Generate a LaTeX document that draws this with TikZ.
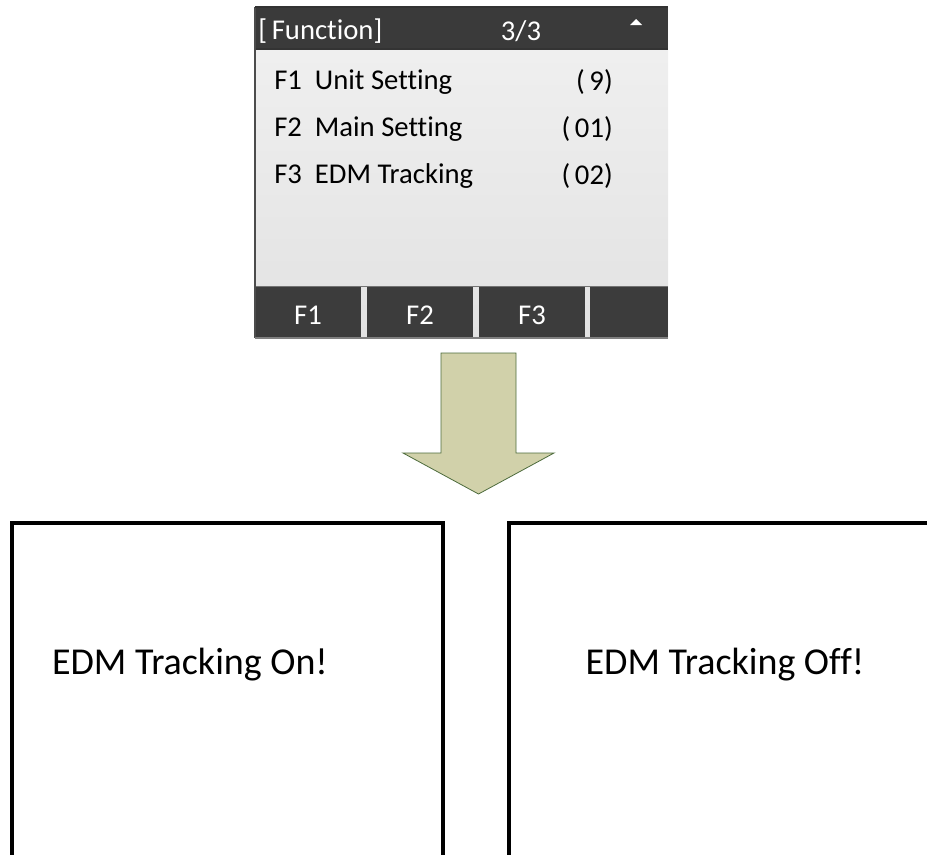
\documentclass[tikz,border=0pt]{standalone}
\usepackage{fontspec}
\setmainfont{Carlito}[Ligatures=NoCommon]
\definecolor{hdr}{HTML}{3A3A3A}
\definecolor{btn}{HTML}{3C3C3C}
\definecolor{bodytop}{HTML}{F1F1F1}
\definecolor{bodybot}{HTML}{E2E2E2}
\definecolor{arrowfill}{HTML}{D1D1AA}
\definecolor{arrowline}{HTML}{4D6B3C}
\begin{document}
\begin{tikzpicture}[x=0.75pt,y=-0.75pt,
  scr/.style={font=\fontsize{21.5}{24}\selectfont, inner sep=0pt},
  lbl/.style={scr, text=white},
  btnbox/.style={fill=btn, draw=none},
  msgbox/.style={draw=black, line width=2.3pt},
  msg/.style={font=\fontsize{28.5}{32}\selectfont, inner sep=0pt}]
\useasboundingbox (0,0) rectangle (927,854);
% screen body
\shade[top color=bodytop, bottom color=bodybot] (255,7) rectangle (668,338);
% header
\fill[hdr] (255,7) rectangle (668,49);
\draw[black!80, line width=0.8pt] (255,49) -- (668,49);
\node[lbl, anchor=west] (title) at (258,31) {[\,Function]};
\node[lbl] (page) at (521,31) {3/3};
\fill[white] (630,25) -- (642,25) -- (636,19) -- cycle;
% menu rows
\node[scr, anchor=west] (f1) at (274,82) {F1\ \ Unit Setting};
\node[scr, anchor=east] (v1) at (613,82) {(\,9)};
\node[scr, anchor=west] (f2) at (274,129) {F2\ \ Main Setting};
\node[scr, anchor=east] (v2) at (613,129) {(\,01)};
\node[scr, anchor=west] (f3) at (274,176) {F3\ \ EDM Tracking};
\node[scr, anchor=east] (v3) at (613,176) {(\,02)};
% function bar
\draw[black!55, line width=0.6pt] (255,286.5) -- (668,286.5);
\fill[btnbox] (255,287) rectangle (361,338);
\fill[btnbox] (367,287) rectangle (473,338);
\fill[btnbox] (479,287) rectangle (585,338);
\fill[btnbox] (590,287) rectangle (668,338);
\node[lbl] (b1) at (308,315) {F1};
\node[lbl] (b2) at (420,315) {F2};
\node[lbl] (b3) at (532,315) {F3};
\draw[black!70, line width=0.8pt] (255,7) -- (255,338);
\draw[black!50, line width=0.8pt] (255,338) -- (668,338);
\draw[black!80, line width=0.8pt] (255,7) -- (668,7);
% block arrow
\draw[fill=arrowfill, draw=arrowline, line width=0.6pt]
  (441,353) -- (516,353) -- (516,453) -- (554,453) -- (478.5,494)
  -- (403,453) -- (441,453) -- cycle;
% message boxes
\draw[msgbox] (12,870) -- (12,523) -- (443,523) -- (443,870);
\draw[msgbox] (509,870) -- (509,523) -- (940,523) -- (940,870);
\node[msg] (on) at (190,665) {EDM Tracking On!};
\node[msg] (off) at (725,665) {EDM Tracking Off!};
\end{tikzpicture}
\end{document}
